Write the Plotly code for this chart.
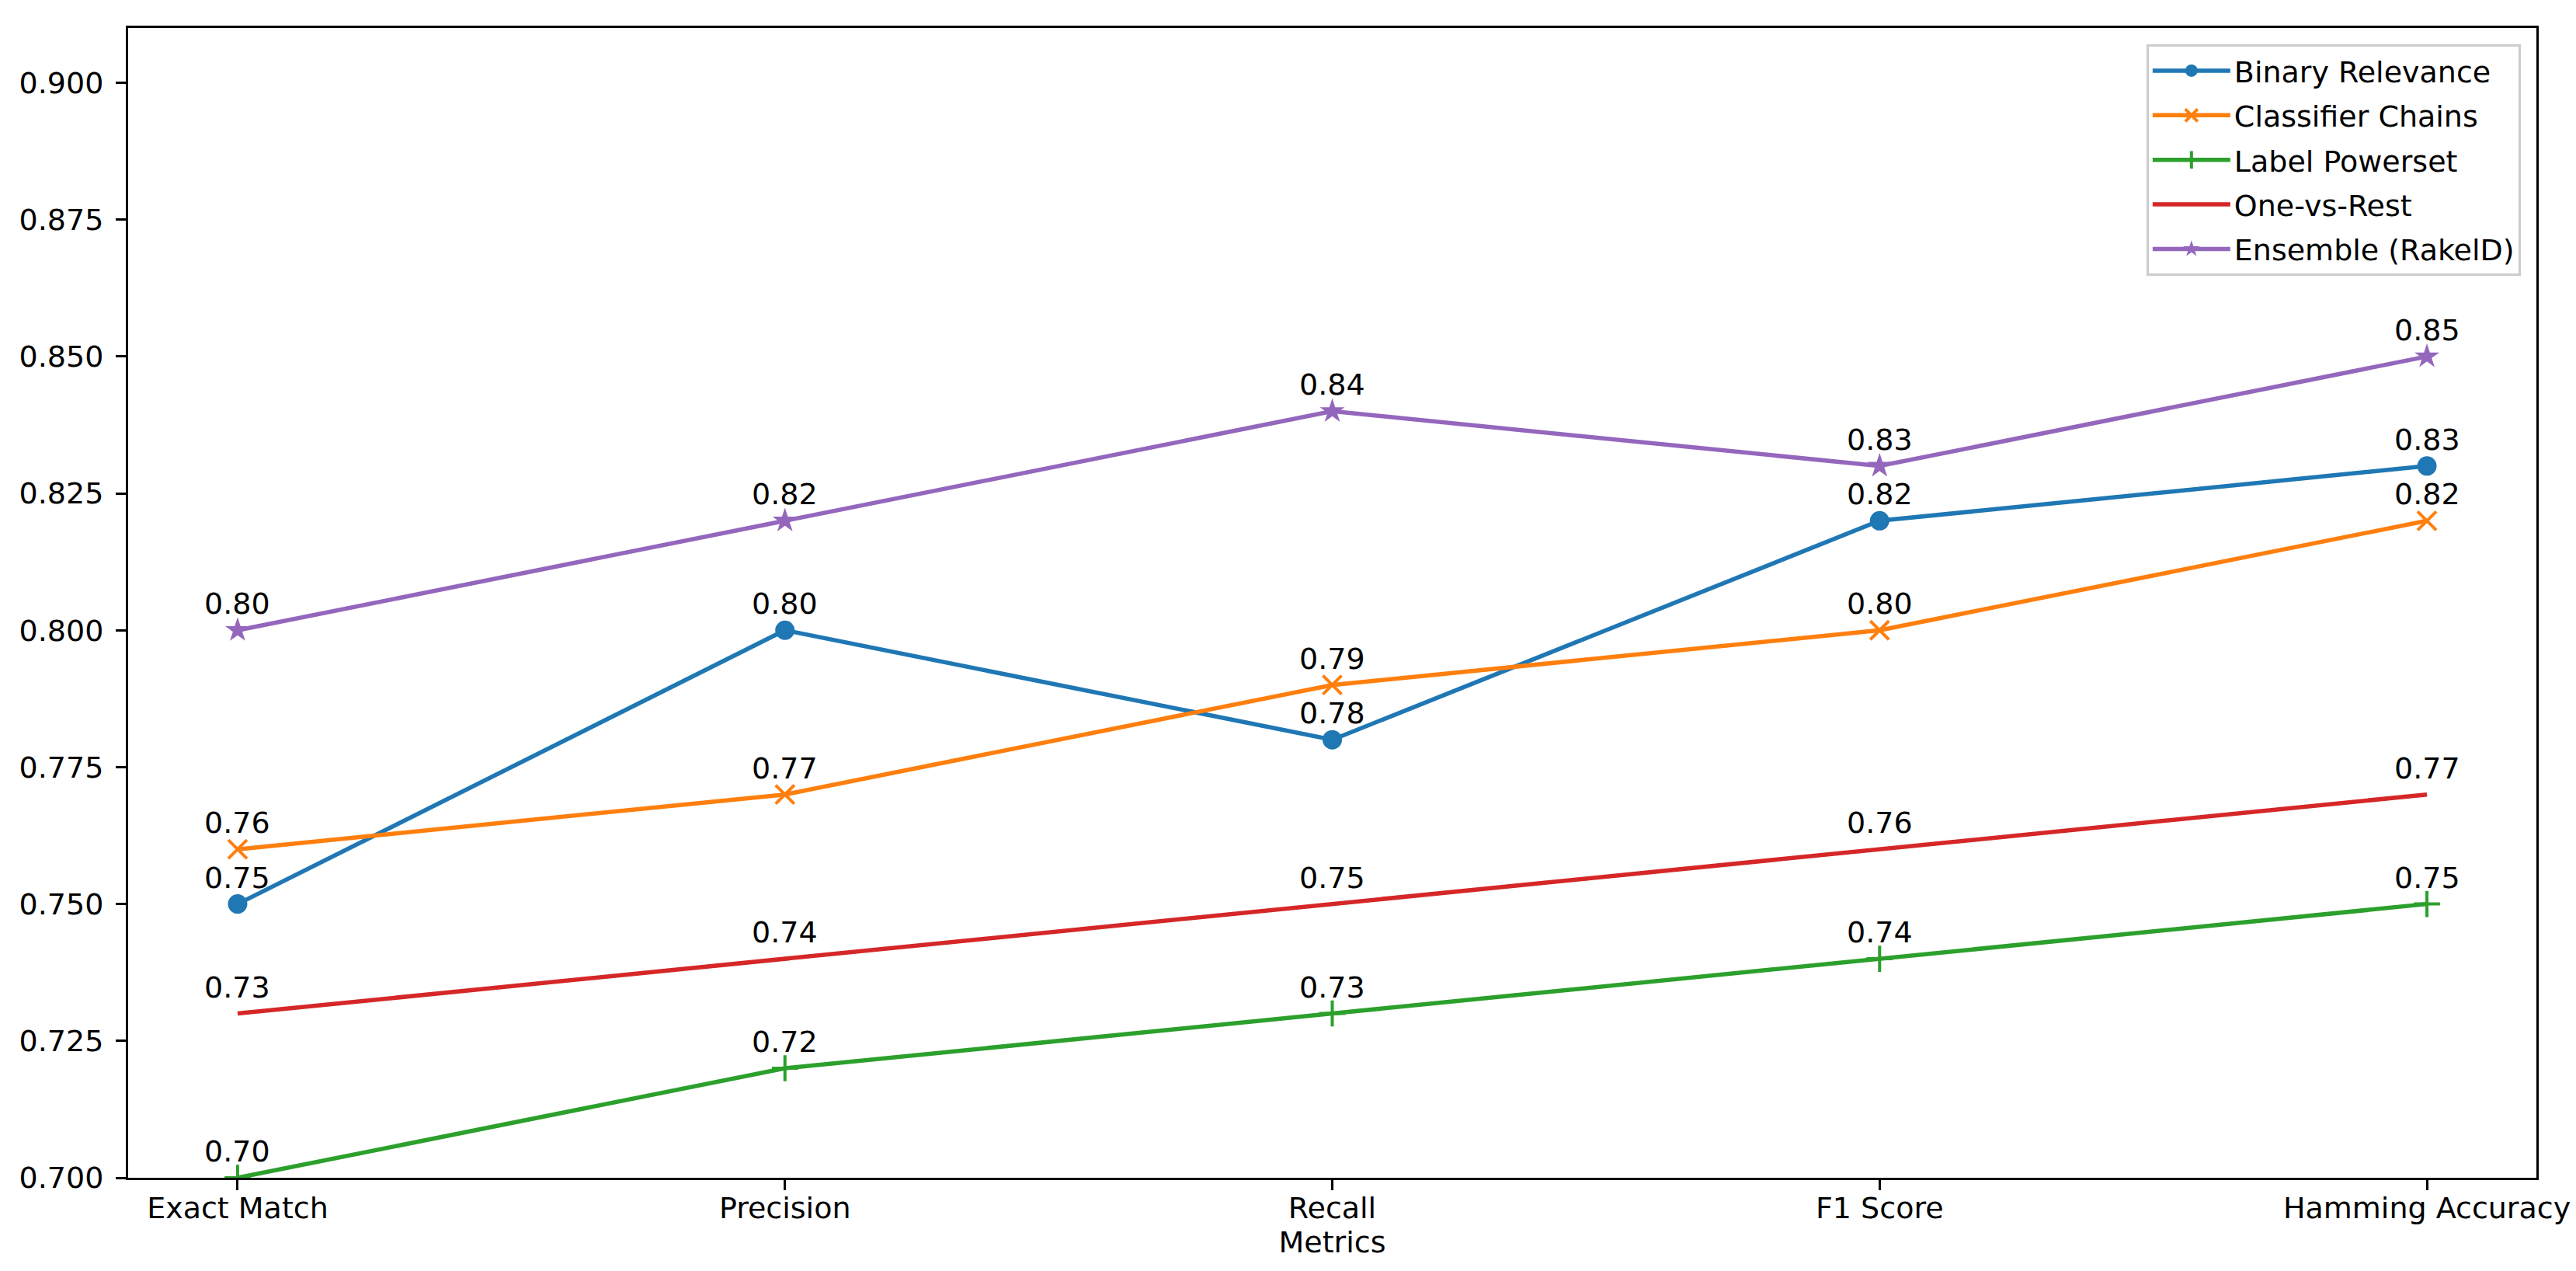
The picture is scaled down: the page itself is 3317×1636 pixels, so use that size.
import plotly.graph_objects as go

metrics = ["Exact Match", "Precision", "Recall", "F1 Score", "Hamming Accuracy"]
binary_relevance = [0.75, 0.80, 0.78, 0.82, 0.83]
classifier_chains = [0.76, 0.77, 0.79, 0.80, 0.82]
label_powerset = [0.70, 0.72, 0.73, 0.74, 0.75]
one_vs_rest = [0.73, 0.74, 0.75, 0.76, 0.77]
ensemble_rakeld = [0.80, 0.82, 0.84, 0.83, 0.85]
y_ticks = [0.700, 0.725, 0.750, 0.775, 0.800, 0.825, 0.850, 0.875, 0.900]

series = [
    ("Binary Relevance", binary_relevance, "#1f77b4", "circle"),
    ("Classifier Chains", classifier_chains, "#ff7f0e", "x-thin"),
    ("Label Powerset", label_powerset, "#2ca02c", "cross-thin"),
    ("One-vs-Rest", one_vs_rest, "#d62728", None),
    ("Ensemble (RakelD)", ensemble_rakeld, "#9467bd", "star"),
]

FONT = "DejaVu Sans"
FS = 38
xs = list(range(len(metrics)))

fig = go.Figure()
annotations = []
for k, (name, vals, color, sym) in enumerate(series):
    if sym is None:
        mode = "lines"
        marker = None
    else:
        mode = "lines+markers"
        if sym in ("x-thin", "cross-thin"):
            marker = dict(symbol=sym, size=24, color=color,
                          line=dict(width=4, color=color))
        elif sym == "star":
            marker = dict(symbol=sym, size=24, color=color, line=dict(width=0))
        else:
            marker = dict(symbol=sym, size=25, color=color, line=dict(width=0))
    fig.add_trace(go.Scatter(x=xs, y=vals, mode=mode, name=name,
                             legendgroup=f"g{k}",
                             line=dict(color=color, width=5.5),
                             marker=marker))
    for x, v in zip(xs, vals):
        annotations.append(dict(x=x, y=v, text=f"{v:.2f}", showarrow=False,
                                xanchor="center", yanchor="bottom", yshift=10,
                                font=dict(family=FONT, size=FS, color="black")))

fig.update_layout(
    width=3317, height=1636,
    margin=dict(l=157, r=59, t=28, b=128),
    paper_bgcolor="white", plot_bgcolor="white",
    font=dict(family=FONT, size=FS, color="black"),
    annotations=annotations,
    showlegend=True,
    legend=dict(x=0.9935, y=0.986, xanchor="right", yanchor="top",
                bgcolor="rgba(255,255,255,0.8)", bordercolor="#cccccc",
                borderwidth=3, font=dict(family=FONT, size=FS, color="black"),
                itemwidth=100, tracegroupgap=5, valign="middle"),
)
fig.update_xaxes(
    range=[-0.2, 4.2], tickmode="array", tickvals=xs, ticktext=metrics,
    showline=True, mirror=True, linecolor="black", linewidth=3,
    ticks="outside", ticklen=13, tickwidth=3, tickcolor="black",
    showgrid=False, zeroline=False, ticklabelstandoff=-10,
    title=dict(text="Metrics", font=dict(family=FONT, size=FS, color="black"), standoff=8),
    tickfont=dict(family=FONT, size=FS, color="black"),
)
fig.update_yaxes(
    range=[0.7, 0.91], tickmode="array", tickvals=y_ticks,
    ticktext=[f"{t:.3f}" for t in y_ticks],
    showline=True, mirror=True, linecolor="black", linewidth=3,
    ticks="outside", ticklen=13, tickwidth=3, tickcolor="black",
    showgrid=False, zeroline=False, ticklabelstandoff=8,
    tickfont=dict(family=FONT, size=FS, color="black"),
)
fig.write_html("out.html")
